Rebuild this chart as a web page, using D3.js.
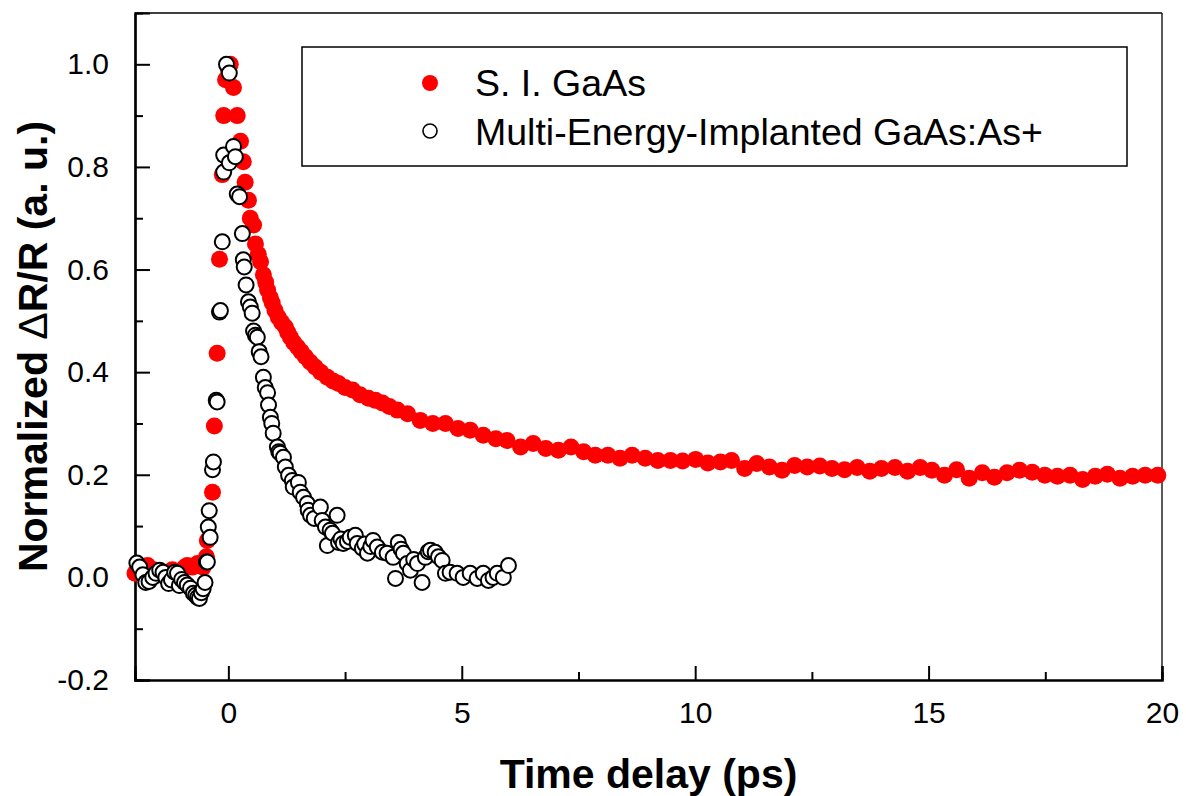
<!DOCTYPE html>
<html>
<head>
<meta charset="utf-8">
<script src="https://cdn.jsdelivr.net/npm/d3@7"></script>
<style>
  body { margin: 0; background: #fff; }
  #canvas { width: 1186px; height: 796px; }
  text { font-family: "Liberation Sans", Arial, sans-serif; }
</style>
</head>
<body>
<div id="canvas"></div>
<script>
// S. I. GaAs (filled red)
var siTime = [-2.0,-1.87,-1.73,-1.6,-1.47,-1.33,-1.2,-1.07,-0.93,-0.88,-0.77,-0.66,-0.54,-0.47,-0.45,
  -0.34,-0.30,-0.24,-0.19,-0.13,-0.1,-0.06,0.0,0.04,0.11,0.19,0.26,0.32,0.36,0.43,0.47,0.54,0.58,0.64,
  0.69,0.75,0.8,0.84,0.9,0.94,1.0,1.07,1.14,1.22,1.27,1.33,1.4,1.48,1.56,1.65,1.75,1.86,1.98,2.12,2.24,
  2.36,2.5,2.66,2.82,3.0,3.15,3.3,3.45,3.62,
  3.84,4.11,4.38,4.65,4.92,5.18,5.46,5.73,5.97,6.26,6.53,6.8,7.07,7.34,7.61,7.86,8.13,8.39,8.65,8.93,
  9.2,9.47,9.73,10.01,10.27,10.54,10.78,11.06,11.32,11.59,11.86,12.13,12.4,12.67,12.93,13.2,13.47,13.74,
  13.99,14.28,14.55,14.82,15.07,15.34,15.6,15.87,16.15,16.41,16.68,16.95,17.22,17.49,17.76,18.03,18.3,
  18.57,18.83,19.1,19.37,19.64,19.91];
var siSignal = [0.008,0.01,0.023,0.015,0.012,0.01,0.015,0.012,0.02,0.023,0.02,0.027,0.02,0.04,0.072,
  0.166,0.295,0.437,0.62,0.785,0.90,0.97,0.99,1.0,0.955,0.90,0.85,0.81,0.77,0.735,0.70,0.687,0.65,0.63,
  0.615,0.59,0.575,0.56,0.545,0.535,0.52,0.507,0.497,0.488,0.478,0.468,0.458,0.449,0.44,0.43,0.42,0.41,0.40,0.39,0.383,
  0.378,0.37,0.365,0.356,0.349,0.345,0.34,0.333,0.326,
  0.319,0.306,0.30,0.30,0.29,0.287,0.277,0.27,0.267,0.254,0.261,0.251,0.248,0.254,0.245,0.238,0.238,0.232,0.238,0.232,
  0.228,0.228,0.227,0.23,0.223,0.225,0.228,0.212,0.222,0.215,0.209,0.218,0.215,0.217,0.212,0.21,0.214,0.207,
  0.212,0.214,0.207,0.214,0.209,0.199,0.21,0.193,0.204,0.195,0.204,0.209,0.205,0.199,0.197,0.199,0.191,
  0.197,0.201,0.193,0.197,0.199,0.199];

// Multi-Energy-Implanted GaAs:As+ (open black)
var implTime = [-1.96,-1.9,-1.83,-1.77,-1.7,-1.62,-1.55,-1.47,-1.4,-1.34,-1.28,-1.22,-1.15,-1.09,-1.05,-1.0,
  -0.94,-0.88,-0.81,-0.75,-0.7,-0.66,-0.62,-0.58,-0.54,-0.5,-0.47,-0.45,
  -0.43,-0.41,-0.39,-0.34,-0.32,-0.26,-0.24,-0.19,-0.17,-0.13,-0.1,-0.1,-0.04,0.02,0.02,0.11,0.15,0.19,
  0.24,0.3,0.32,0.34,0.38,0.43,0.47,0.51,0.54,0.58,0.62,0.66,0.7,0.75,0.79,0.84,0.86,0.9,0.93,0.96,
  1.05,1.08,1.11,1.18,1.22,1.29,1.37,1.39,1.5,1.54,1.61,1.69,1.71,1.76,1.84,1.97,2.01,2.08,2.12,2.18,
  2.23,2.33,2.36,2.41,2.46,2.55,2.61,2.72,2.76,2.87,2.92,2.98,3.05,3.1,3.19,3.3,3.4,3.53,3.58,3.64,
  3.7,3.75,3.83,3.9,3.97,4.05,4.15,4.22,4.28,4.33,4.43,4.5,4.58,4.65,4.75,4.9,5.03,5.18,5.33,5.46,
  5.57,5.67,5.76,5.89,6.0];
var implSignal = [0.028,0.02,0.005,-0.01,-0.008,0.0,0.008,0.014,0.01,0.0,-0.012,-0.005,0.01,0.008,-0.016,-0.004,
  -0.01,-0.015,-0.021,-0.031,-0.035,-0.039,-0.041,-0.03,-0.022,-0.01,0.03,0.03,
  0.098,0.13,0.078,0.21,0.225,0.345,0.342,0.517,0.52,0.654,0.79,0.823,1.0,0.983,0.808,0.84,0.82,0.747,
  0.742,0.67,0.619,0.605,0.57,0.537,0.527,0.515,0.48,0.472,0.468,0.44,0.43,0.39,0.37,0.36,0.336,0.312,0.30,0.281,
  0.254,0.245,0.242,0.234,0.215,0.199,0.189,0.176,0.185,0.166,0.156,0.144,0.131,0.121,0.115,0.137,0.111,0.098,0.062,0.092,
  0.086,0.121,0.068,0.075,0.066,0.07,0.078,0.082,0.066,0.057,0.065,0.047,0.06,0.072,0.059,0.049,0.047,0.039,-0.002,0.068,
  0.055,0.047,0.027,0.014,0.035,0.027,-0.01,0.039,0.05,0.053,0.049,0.04,0.033,0.008,0.01,0.008,0.0,0.008,-0.002,0.008,
  -0.006,0.0,0.008,0.0,0.023];

var xMajor = [0, 5, 10, 15, 20];
var xMinor = [2.5, 7.5, 12.5, 17.5];
var yMajor = [-0.2, 0.0, 0.2, 0.4, 0.6, 0.8, 1.0];
var yMinor = [-0.1, 0.1, 0.3, 0.5, 0.7, 0.9];
var legendLabels = ['S. I. GaAs', 'Multi-Energy-Implanted GaAs:As+'];

var canvasWidth = 1186,
    canvasHeight = 796;
var margin = {t:13, r:24, b:116, l:135};
var plotWidth = canvasWidth - margin.l - margin.r,
    plotHeight = canvasHeight - margin.t - margin.b;

var svg = d3.select('#canvas')
  .append('svg')
  .attr('width', canvasWidth)
  .attr('height', canvasHeight);

var plot = svg.append('g')
  .attr('transform', 'translate(' + margin.l + ',' + margin.t + ')');

var x = d3.scaleLinear().domain([-2, 20]).range([0, plotWidth]);
var y = d3.scaleLinear().domain([-0.2, 1.1]).range([plotHeight, 0]);

// frame: top and right thin
plot.append('line').attr('x1', 0).attr('x2', plotWidth).attr('y1', 0).attr('y2', 0)
  .style('stroke', '#000').style('stroke-width', 1.3);
plot.append('line').attr('x1', plotWidth).attr('x2', plotWidth).attr('y1', 0).attr('y2', plotHeight)
  .style('stroke', '#000').style('stroke-width', 1.3);

// tick labels use a plain hyphen like the original
var yFmt = function(d){ return d3.format('.1f')(d).replace('\u2212', '-'); };

// axes with inward ticks
var xAxis = d3.axisBottom(x).tickValues(xMajor).tickSize(-14).tickPadding(22).tickFormat(d3.format('d'));
var xAxisMinor = d3.axisBottom(x).tickValues(xMinor).tickSize(-8).tickFormat('');
var yAxis = d3.axisLeft(y).tickValues(yMajor).tickSize(-15).tickPadding(26).tickFormat(yFmt);
var yAxisMinor = d3.axisLeft(y).tickValues(yMinor).tickSize(-8).tickFormat('');

function styleAxis(g) {
  g.select('.domain').style('stroke-width', 2.2);
  g.selectAll('.tick line').style('stroke-width', 2);
  g.selectAll('.tick text')
    .style('font-family', '"Liberation Sans", Arial, sans-serif')
    .style('font-size', '30px')
    .style('fill', '#000');
}

plot.append('g').attr('transform', 'translate(0,' + plotHeight + ')').call(xAxisMinor).call(styleAxis);
plot.append('g').attr('transform', 'translate(0,' + plotHeight + ')').call(xAxis).call(styleAxis);
plot.append('g').call(yAxisMinor).call(styleAxis);
plot.append('g').call(yAxis).call(styleAxis);

// S. I. GaAs points
plot.append('g').selectAll('circle')
  .data(d3.range(siTime.length))
  .enter().append('circle')
  .attr('cx', function(i){ return x(siTime[i]); })
  .attr('cy', function(i){ return y(siSignal[i]); })
  .attr('r', 8.5)
  .style('fill', '#ff0000');

// implanted points
plot.append('g').selectAll('circle')
  .data(d3.range(implTime.length))
  .enter().append('circle')
  .attr('cx', function(i){ return x(implTime[i]); })
  .attr('cy', function(i){ return y(implSignal[i]); })
  .attr('r', 7.5)
  .style('fill', '#fff')
  .style('stroke', '#000')
  .style('stroke-width', 2);

// legend
var legend = svg.append('g');
legend.append('rect')
  .attr('x', 302).attr('y', 47).attr('width', 825).attr('height', 119)
  .style('fill', '#fff').style('stroke', '#000').style('stroke-width', 1.5);
legend.append('circle').attr('cx', 430).attr('cy', 83).attr('r', 8)
  .style('fill', '#ff0000');
legend.append('circle').attr('cx', 430).attr('cy', 131).attr('r', 7)
  .style('fill', '#fff').style('stroke', '#000').style('stroke-width', 1.6);
legend.selectAll('text.lab')
  .data(legendLabels)
  .enter().append('text')
  .attr('class', 'lab')
  .attr('x', 475)
  .attr('y', function(d, i){ return 96 + i * 49; })
  .style('font-size', '37.5px')
  .text(function(d){ return d; });

// axis titles
svg.append('text')
  .attr('x', margin.l + plotWidth / 2)
  .attr('y', 788)
  .attr('text-anchor', 'middle')
  .style('font-size', '41px')
  .style('font-weight', 'bold')
  .text('Time delay (ps)');

var yTitle = svg.append('text')
  .attr('transform', 'translate(47,' + (margin.t + plotHeight / 2) + ') rotate(-90)')
  .attr('text-anchor', 'middle')
  .style('font-size', '41px')
  .style('font-weight', 'bold');
yTitle.append('tspan').text('Normalized ');
yTitle.append('tspan').style('font-weight', 'normal').text('\u0394');
yTitle.append('tspan').text('R/R (a. u.)');
</script>
</body>
</html>
